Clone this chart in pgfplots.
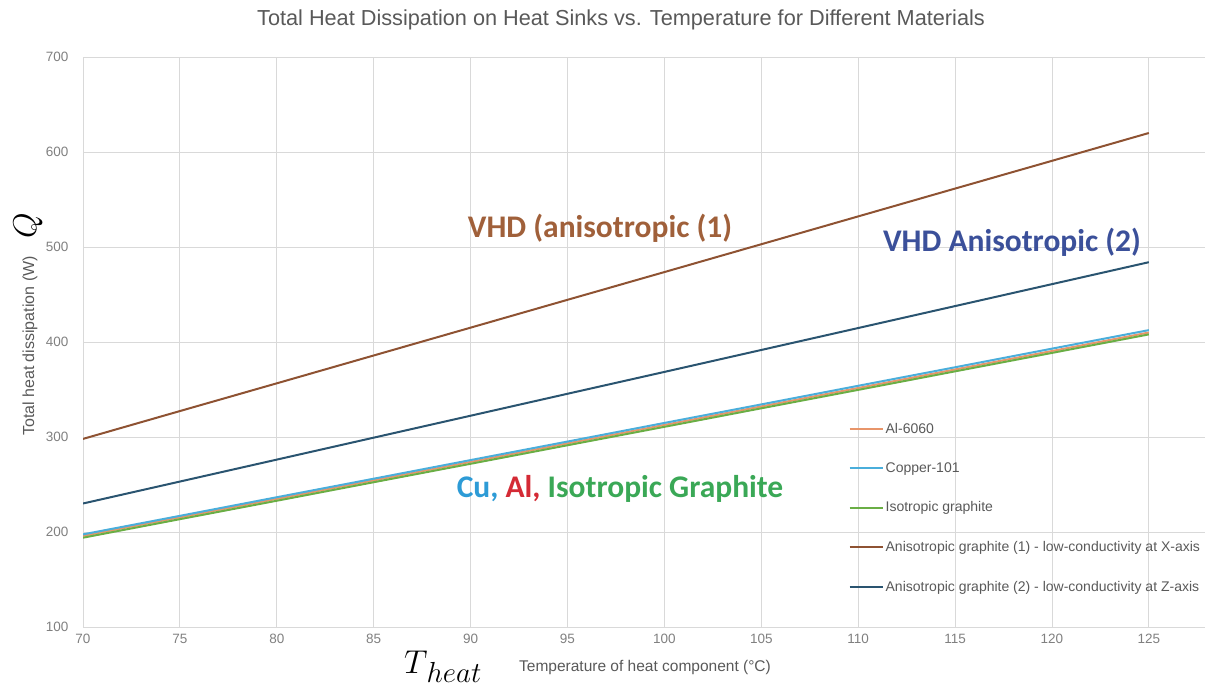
\RequirePackage{fix-cm}
\documentclass[border=0pt]{standalone}
\usepackage{pgfplots}
\pgfplotsset{compat=1.18}
\usepackage{fontspec}
\setmainfont{Liberation Sans}
\newfontfamily\calib{Carlito}
\definecolor{txtgray}{HTML}{595959}
\definecolor{tickgray}{HTML}{808080}
\definecolor{gridgray}{HTML}{D9D9D9}
\definecolor{alc}{HTML}{E8956A}
\definecolor{cuc}{HTML}{4AAEDB}
\definecolor{isoc}{HTML}{6AAE45}
\definecolor{an1}{HTML}{8E5232}
\definecolor{an2}{HTML}{2A5470}
\definecolor{vhdbrown}{HTML}{A0603A}
\definecolor{vhdblue}{HTML}{3B509A}
\definecolor{cublue}{HTML}{2D9BD6}
\definecolor{alred}{HTML}{D42A35}
\definecolor{isogreen}{HTML}{3AA856}
\begin{document}
\begin{tikzpicture}[x=1pt,y=1pt]
\path[use as bounding box] (0,0) rectangle (1207,686);
\begin{axis}[
  at={(83pt,59pt)}, anchor=south west,
  scale only axis, width=1122pt, height=570pt,
  xmin=70, xmax=127.9, ymin=100, ymax=700,
  xtick={70,75,...,125}, ytick={100,200,...,700},
  grid=major, major grid style={gridgray, line width=0.8pt},
  axis line style={draw=none}, major tick length=0pt,
  /pgf/number format/assume math mode=true,
  tick label style={font=\fontsize{13.5}{13.5}\selectfont, text=tickgray},
  yticklabel style={xshift=-11pt},
  xticklabel style={yshift=-4pt},
  legend style={draw=none, fill=none, at={(0.682,0.362)}, anchor=north west,
    font=\fontsize{14}{14}\selectfont, text=txtgray,
    row sep=24pt, inner sep=0pt, cells={anchor=west}},
  legend image code/.code={\draw[#1, line width=2.2pt] (0pt,0pt) -- (33pt,0pt);},
  every axis plot/.append style={line width=2pt},
]
\addplot[alc] coordinates {(70,196) (75,215.5) (80,234.9) (85,254.4) (90,273.8) (95,293.3) (100,312.7) (105,332.2) (110,351.6) (115,371.1) (120,390.5) (125,410)};
\addlegendentry{Al-6060}
\addplot[cuc] coordinates {(70,197.5) (75,217) (80,236.6) (85,256.1) (90,275.7) (95,295.2) (100,314.8) (105,334.3) (110,353.9) (115,373.4) (120,393) (125,412.5)};
\addlegendentry{Copper-101}
\addplot[isoc] coordinates {(70,194) (75,213.5) (80,232.9) (85,252.4) (90,271.8) (95,291.3) (100,310.7) (105,330.2) (110,349.6) (115,369.1) (120,388.5) (125,408)};
\addlegendentry{Isotropic graphite}
\addplot[an1] coordinates {(70,298) (75,327.3) (80,356.5) (85,385.8) (90,415.1) (95,444.4) (100,473.6) (105,502.9) (110,532.2) (115,561.5) (120,590.7) (125,620)};
\addlegendentry{Anisotropic graphite (1) - low-conductivity at X-axis}
\addplot[an2] coordinates {(70,230) (75,253.1) (80,276.2) (85,299.3) (90,322.4) (95,345.5) (100,368.5) (105,391.6) (110,414.7) (115,437.8) (120,460.9) (125,484)};
\addlegendentry{Anisotropic graphite (2) - low-conductivity at Z-axis}
\end{axis}
\node[text=txtgray, font=\fontsize{21.7}{21.7}\selectfont] at (621,666) {Total Heat Dissipation on Heat Sinks vs. Temperature for Different Materials};
\node[text=txtgray, font=\fontsize{15.5}{15.5}\selectfont] at (645,19) {Temperature of heat component (°C)};
\node[text=txtgray, font=\fontsize{16}{16}\selectfont, rotate=90] at (30,340) {Total heat dissipation (W)};
\node[font=\fontsize{33}{33}\selectfont, rotate=90] at (28,460) {$Q$};
\node[anchor=base west, inner sep=0pt] at (404,13) {\fontsize{33}{33}\selectfont$T$\kern-1pt\raisebox{-9pt}{\fontsize{29}{29}\selectfont$heat$}};
\node[text=vhdbrown, font=\calib\bfseries\fontsize{31.5}{31.5}\selectfont] at (600,458) {VHD (anisotropic (1)};
\node[text=vhdblue, font=\calib\bfseries\fontsize{31.5}{31.5}\selectfont] at (1012,444) {VHD Anisotropic (2)};
\node[font=\calib\bfseries\fontsize{31.5}{31.5}\selectfont] at (620,197) {\textcolor{cublue}{Cu,} \textcolor{alred}{Al,} \textcolor{isogreen}{Isotropic Graphite}};
\end{tikzpicture}
\end{document}
